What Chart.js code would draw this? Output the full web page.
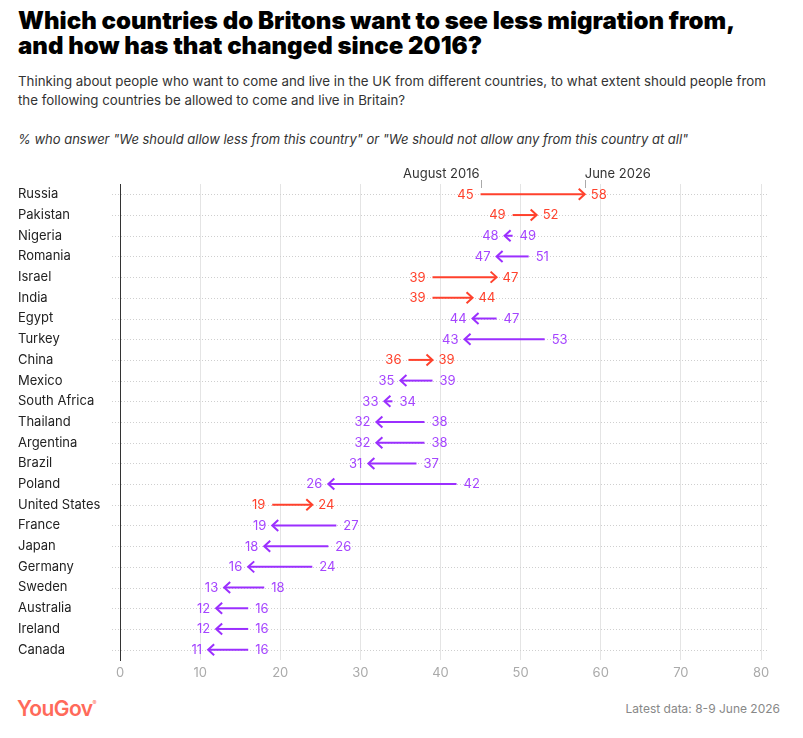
<!DOCTYPE html>
<html>
<head>
<meta charset="utf-8">
<script src="https://cdn.jsdelivr.net/npm/chart.js@4"></script>
<style>
  body { margin: 0; background: #fff; font-family: Inter, "Noto Sans", sans-serif; color: #111; }
  #page { position: relative; width: 803px; height: 738px; overflow: hidden; }
  h1 { position: absolute; left: 18px; top: 8px; margin: 0; font-size: 24px; line-height: 25px; font-weight: 900; letter-spacing: 0; color: #000; }
  .sub { position: absolute; left: 18px; top: 72px; margin: 0; font-size: 13.3px; line-height: 19px; color: #333; width: 762px; }
  .note { position: absolute; left: 18px; top: 131px; margin: 0; font-size: 13px; font-style: italic; color: #333; }
  #wrap { position: absolute; left: 0; top: 160px; width: 803px; height: 530px; }
  .logo { position: absolute; left: 17px; top: 696px; font-size: 21px; font-weight: 600; color: #ff6a5a; letter-spacing: -0.6px; }
  .logo sup { font-size: 6px; font-weight: 400; vertical-align: top; position: relative; top: 3px; }
  .latest { position: absolute; right: 23px; top: 701px; font-size: 12px; color: #888; }
</style>
</head>
<body>
<div id="page">
  <h1>Which countries do Britons want to see less migration from,<br>and how has that changed since 2016?</h1>
  <p class="sub">Thinking about people who want to come and live in the UK from different countries, to what extent should people from<br>the following countries be allowed to come and live in Britain?</p>
  <p class="note">% who answer "We should allow less from this country" or "We should not allow any from this country at all"</p>
  <div id="wrap"><canvas id="chart"></canvas></div>
  <div class="logo">YouGov<sup>®</sup></div>
  <div class="latest">Latest data: 8-9 June 2026</div>
</div>
<script>
const countries = ["Russia", "Pakistan", "Nigeria", "Romania", "Israel", "India", "Egypt", "Turkey",
  "China", "Mexico", "South Africa", "Thailand", "Argentina", "Brazil", "Poland", "United States",
  "France", "Japan", "Germany", "Sweden", "Australia", "Ireland", "Canada"];
const aug2016 = [45, 49, 49, 51, 39, 39, 47, 53, 36, 39, 34, 38, 38, 37, 42, 19, 27, 26, 24, 18, 16, 16, 16];
const jun2026 = [58, 52, 48, 47, 47, 44, 44, 43, 39, 35, 33, 32, 32, 31, 26, 24, 19, 18, 16, 13, 12, 12, 11];
const xTicks = [0, 10, 20, 30, 40, 50, 60, 70, 80];
const seriesNames = ["August 2016", "June 2026"];

const RED = "#ff412c";
const PURPLE = "#9b2fff";
const PURPLE_TEXT = "#a545ff";

const arrowPlugin = {
  id: "arrows",
  beforeDatasetsDraw(chart) {
    const ctx = chart.ctx;
    const x = chart.scales.x, y = chart.scales.y;
    ctx.save();
    ctx.strokeStyle = "#cfcfcf";
    ctx.lineWidth = 1;
    ctx.setLineDash([1, 2]);
    countries.forEach(function(c, i) {
      const py = Math.round(y.getPixelForValue(i)) + 0.5;
      ctx.beginPath();
      ctx.moveTo(x.getPixelForValue(0) - 8, py);
      ctx.lineTo(x.getPixelForValue(80) + 7, py);
      ctx.stroke();
    });
    ctx.restore();
  },
  afterDatasetsDraw(chart) {
    const ctx = chart.ctx;
    const x = chart.scales.x, y = chart.scales.y;
    ctx.save();
    ctx.font = "13px Inter, 'Noto Sans', sans-serif";
    ctx.textBaseline = "middle";
    countries.forEach(function(c, i) {
      const a = aug2016[i], b = jun2026[i];
      const x0 = x.getPixelForValue(a), x1 = x.getPixelForValue(b);
      const py = y.getPixelForValue(i);
      const up = b > a;
      const dir = up ? 1 : -1;
      ctx.strokeStyle = up ? RED : PURPLE;
      ctx.lineWidth = 2;
      ctx.lineCap = "butt";
      ctx.beginPath();
      ctx.moveTo(x0, py);
      ctx.lineTo(x1 - dir * 1, py);
      ctx.stroke();
      // chevron head
      ctx.beginPath();
      ctx.moveTo(x1 - dir * 6, py - 5.5);
      ctx.lineTo(x1, py);
      ctx.lineTo(x1 - dir * 6, py + 5.5);
      ctx.stroke();
      // value labels
      ctx.fillStyle = up ? RED : PURPLE_TEXT;
      ctx.textAlign = up ? "right" : "left";
      ctx.fillText(a, x0 - dir * 7, py + 0.5);
      ctx.textAlign = up ? "left" : "right";
      ctx.fillText(b, x1 + dir * 6, py + 0.5);
    });
    // series annotations above first row
    const ta = x.getPixelForValue(aug2016[0]), tb = x.getPixelForValue(jun2026[0]);
    const top = chart.chartArea.top;
    ctx.strokeStyle = "#aaa";
    ctx.lineWidth = 1;
    [ta, tb].forEach(function(px) {
      ctx.beginPath();
      ctx.moveTo(Math.round(px) + 0.5, top - 4);
      ctx.lineTo(Math.round(px) + 0.5, top + 4);
      ctx.stroke();
    });
    ctx.fillStyle = "#333";
    ctx.textBaseline = "alphabetic";
    ctx.textAlign = "right";
    ctx.fillText(seriesNames[0], ta - 1, top - 6);
    ctx.textAlign = "left";
    ctx.fillText(seriesNames[1], tb, top - 6);
    ctx.restore();
  }
};

new Chart(document.getElementById("chart"), {
  type: "bar",
  data: {
    labels: countries,
    datasets: [{
      label: "change",
      data: countries.map(function(c, i) { return [aug2016[i], jun2026[i]]; }),
      backgroundColor: "rgba(0,0,0,0)",
      borderWidth: 0
    }]
  },
  options: {
    indexAxis: "y",
    responsive: true,
    maintainAspectRatio: false,
    animation: false,
    layout: { padding: { left: 18, right: 42, top: 24, bottom: 5 } },
    plugins: { legend: { display: false }, tooltip: { enabled: false } },
    scales: {
      x: {
        type: "linear",
        min: 0,
        max: 80,
        afterBuildTicks: function(scale) { scale.ticks = xTicks.map(function(v) { return { value: v }; }); },
        grid: { color: "#e4e4e4", drawTicks: false, lineWidth: 1 },
        border: { display: false },
        ticks: { color: "#aaa", padding: 5, font: { size: 13, family: "Inter" } },
        afterFit: function(scale) { scale.height = 25; }
      },
      y: {
        grid: { display: false },
        border: { display: true, color: "#333", width: 1 },
        ticks: { color: "#222", crossAlign: "far", padding: 0, font: { size: 13, family: "Inter" } },
        afterFit: function(scale) { scale.width = 102; }
      }
    }
  },
  plugins: [arrowPlugin]
});
</script>
</body>
</html>
